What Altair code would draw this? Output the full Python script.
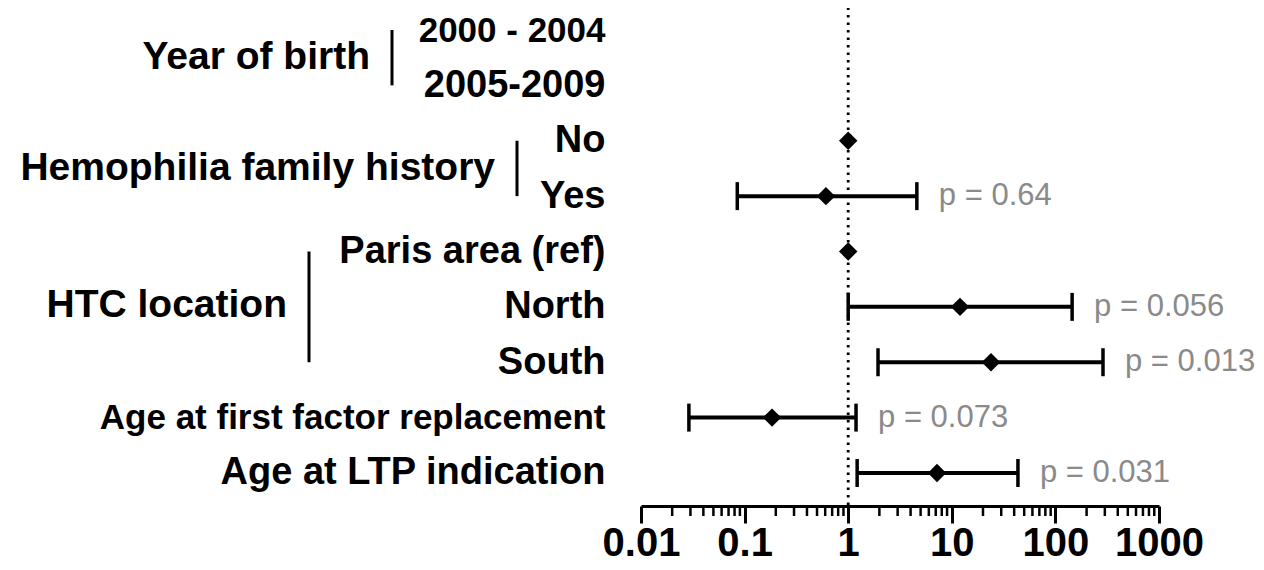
import altair as alt
import pandas as pd

# ---- data ----
rows = ["2000 - 2004", "2005-2009", "No", "Yes", "Paris area (ref)",
        "North", "South", "Age at first factor replacement", "Age at LTP indication"]
estimates = [None, None, 1.0, 0.61, 1.0, 12.0, 23.9, 0.184, 7.2]
ci_low = [None, None, None, 0.085, None, 1.0, 1.94, 0.029, 1.22]
ci_high = [None, None, None, 4.6, None, 145.0, 288.0, 1.19, 43.5]
p_labels = ["", "", "", "p = 0.64", "", "p = 0.056", "p = 0.013", "p = 0.073", "p = 0.031"]

groups = ["Year of birth", "Hemophilia family history", "HTC location"]
group_first = ["2000 - 2004", "No", "Paris area (ref)"]
group_last = ["2005-2009", "Yes", "South"]

major_ticks = [0.01, 0.1, 1, 10, 100, 1000]
minor_ticks = [0.02, 0.03, 0.04, 0.05, 0.06, 0.07, 0.08, 0.09,
               0.2, 0.3, 0.4, 0.5, 0.6, 0.7, 0.8, 0.9,
               2, 3, 4, 5, 6, 7, 8, 9,
               20, 30, 40, 50, 60, 70, 80, 90,
               200, 300, 400, 500, 600, 700, 800, 900]
reference_value = [1]

df = pd.DataFrame({"row": rows, "est": estimates, "lo": ci_low, "hi": ci_high, "p": p_labels})

W, H = 518, 498
FONT = "Liberation Sans"
tight_labels = ["Age at first factor replacement", "2000 - 2004"]

xscale = alt.Scale(type="log", domain=[0.01, 1000], nice=False)
xaxis = alt.Axis(values=major_ticks, format="~g", title=None, grid=False,
                 domainColor="black", domainWidth=3, tickColor="black", tickWidth=3,
                 tickSize=17, labelFont=FONT, labelFontSize=40, labelFontWeight="bold",
                 labelColor="black", labelPadding=0, labelFlush=False, labelOverlap=False)
yaxis = alt.Axis(title=None, domain=False, ticks=False, grid=False, labelPadding=36,
                 labelFont=FONT,
                 labelFontSize=alt.condition(
                     "indexof(" + str(tight_labels).replace("'", '"') + ", datum.value) >= 0",
                     alt.value(35), alt.value(38)),
                 labelFontWeight="bold",
                 labelColor="black", labelLimit=800, labelAlign="right", labelBaseline="middle")
yscale = alt.Scale(type="point", domain=rows, padding=0.497, align=0.4)
y_enc = alt.Y("row:N", scale=yscale, axis=yaxis)

dotted = alt.Chart(pd.DataFrame({"v": reference_value})).mark_rule(
    strokeDash=[2.5, 5], strokeWidth=2.8, color="black"
).encode(x=alt.X("v:Q", scale=xscale, axis=xaxis), y=alt.value(-8), y2=alt.value(H))

minor = alt.Chart(pd.DataFrame({"v": minor_ticks})).mark_rule(
    strokeWidth=2.5, color="black"
).encode(x=alt.X("v:Q", scale=xscale, axis=xaxis), y=alt.value(H), y2=alt.value(H + 10))

valid_ci = alt.Chart(df).transform_filter("isValid(datum.lo)")

bars = valid_ci.mark_rule(strokeWidth=4, color="black").encode(
    x=alt.X("lo:Q", scale=xscale, axis=xaxis), x2="hi:Q", y=y_enc)
cap_lo = valid_ci.mark_tick(size=28, thickness=3.5, color="black", opacity=1).encode(
    x=alt.X("lo:Q", scale=xscale, axis=xaxis), y=y_enc)
cap_hi = valid_ci.mark_tick(size=28, thickness=3.5, color="black", opacity=1).encode(
    x=alt.X("hi:Q", scale=xscale, axis=xaxis), y=y_enc)
ptext = valid_ci.mark_text(align="left", baseline="middle", dx=22, font=FONT,
                           fontSize=31, color="#8a8a8a").encode(
    x=alt.X("hi:Q", scale=xscale, axis=xaxis), y=y_enc, text="p:N")

points = alt.Chart(df).transform_filter("isValid(datum.est)").mark_point(
    shape="diamond", filled=True, size=340, color="black", opacity=1
).encode(x=alt.X("est:Q", scale=xscale, axis=xaxis), y=y_enc)

layers = [dotted, minor, bars, cap_lo, cap_hi, points, ptext]

# group labels and brackets (layout offsets in pixels left of the plot)
bar_x = {"Year of birth": -249, "Hemophilia family history": -124, "HTC location": -332}
label_row = {"Year of birth": "2000 - 2004", "Hemophilia family history": "No",
             "HTC location": "North"}
label_dy = {"Year of birth": 27, "Hemophilia family history": 27, "HTC location": -2}

gdf = pd.DataFrame({"group": groups, "first": group_first, "last": group_last})
for g in groups:
    gd = alt.Chart(gdf).transform_filter(alt.datum.group == g)
    layers.append(gd.mark_rule(strokeWidth=3, color="black").encode(
        x=alt.value(bar_x[g]),
        y=alt.Y("first:N", scale=yscale, axis=yaxis),
        y2="last:N"))
    layers.append(gd.transform_calculate(lr=f"'{label_row[g]}'").mark_text(
        align="right", baseline="middle", font=FONT, fontSize=39, fontWeight="bold",
        color="black", dy=label_dy[g]).encode(
        x=alt.value(bar_x[g] - 22),
        y=alt.Y("lr:N", scale=yscale, axis=yaxis),
        text="group:N"))

chart = alt.layer(*layers).properties(
    width=W, height=H,
    autosize=alt.AutoSizeParams(type="none"),
    padding={"left": 633, "top": 0, "right": 97, "bottom": 58},
    background="white",
).configure_view(stroke=None)

chart.save("out.html", embed_options={"renderer": "svg", "actions": False})
